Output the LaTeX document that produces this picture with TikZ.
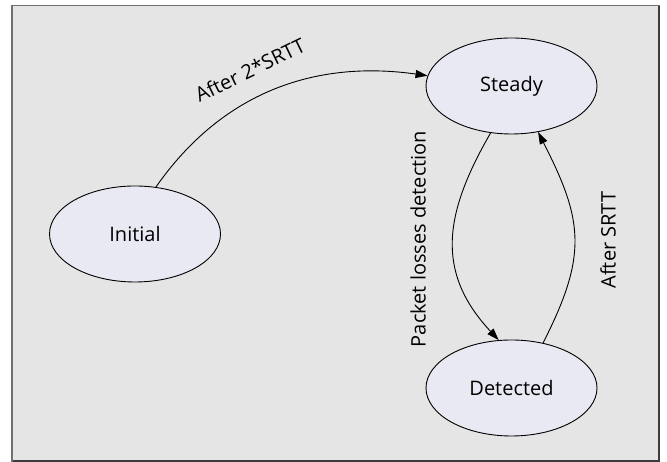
\documentclass[tikz,border=0pt]{standalone}
\usepackage{fontspec}
\setmainfont{Open Sans}
\usetikzlibrary{arrows.meta,shapes.geometric}
\definecolor{bgc}{HTML}{E5E5E5}
\definecolor{statefill}{HTML}{E9E9F3}
\definecolor{framelight}{HTML}{707070}
\definecolor{framedark}{HTML}{3C3C3C}
\begin{document}
\begin{tikzpicture}[x=1pt,y=1pt,
  state/.style={ellipse, draw=black, line width=0.9pt, fill=statefill,
    minimum width=171pt, minimum height=96pt, inner sep=0pt,
    font=\fontsize{20}{24}\selectfont},
  trans/.style={-{Triangle[length=12pt,width=8pt]}, line width=0.9pt, black},
  lbl/.style={font=\fontsize{20}{24}\selectfont, inner sep=0pt},
  frameline/.style={line width=1.5pt, line cap=rect}]
\useasboundingbox (0,0) rectangle (667,462);
\fill[white] (0,0) rectangle (667,462);
\fill[bgc] (12,456.5) rectangle (659,1);
\coordinate (tl) at (12,456.5);
\coordinate (tr) at (659,456.5);
\coordinate (bl) at (12,1);
\coordinate (br) at (659,1);
\draw[frameline, framedark] (tr) -- (br) -- (bl);
\draw[frameline, framelight] (bl) -- (tl) -- (tr);
\node[state] (ini) at (135,228) {Initial};
\node[state] (st) at (511.5,376) {Steady};
\node[state] (det) at (511.5,74) {Detected};
\draw[trans] (ini.66) to[out=55,in=172] (st.173);
\draw[trans] (st.246) to[out=240,in=133,looseness=1.15] (det.105);
\draw[trans] (det.55) to[out=63,in=297,looseness=1.2] (st.300);
\node[lbl, rotate=26] (l1) at (250,392) {After 2*SRTT};
\node[lbl, rotate=90] (l2) at (418,223) {Packet losses detection};
\node[lbl, rotate=90] (l3) at (608,222) {After SRTT};
\end{tikzpicture}
\end{document}
